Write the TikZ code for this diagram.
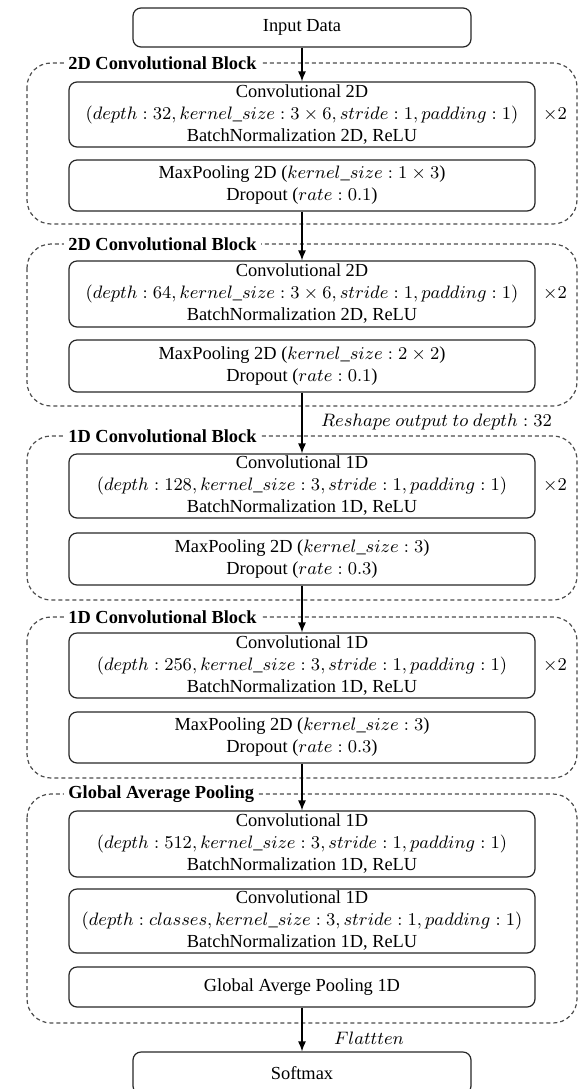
\documentclass[tikz,border=0pt]{standalone}
\usepackage[no-math]{fontspec}
\setmainfont{Liberation Serif}
\usetikzlibrary{arrows.meta}
\begin{document}
\begin{tikzpicture}[x=0.5pt,y=-0.5pt,
  txt/.style={font=\fontsize{9.2}{11}\selectfont},
  box/.style={txt, draw=black!85, line width=0.6pt, rounded corners=4pt, minimum width=233pt, align=center, inner sep=0pt},
  io/.style={box, minimum width=169pt, minimum height=19.5pt},
  conv/.style={box, minimum height=32.5pt},
  pool/.style={box, minimum height=25.5pt},
  blk/.style={draw=black!70, dash pattern=on 2pt off 1.5pt, line width=0.6pt, rounded corners=12pt},
  blklabel/.style={fill=white, inner xsep=2pt, inner ysep=1pt, anchor=west, font=\fontsize{9.2}{11}\selectfont\bfseries},
  arr/.style={-{Latex[length=5pt,width=4pt]}, line width=0.6pt, black}
]
\useasboundingbox (0,0) rectangle (582,1089);

% dashed blocks
\draw[blk] (27,63) rectangle (577,224);
\draw[blk] (27,244) rectangle (577,406);
\draw[blk] (27,436) rectangle (577,600);
\draw[blk] (27,617) rectangle (577,778);
\draw[blk] (27,794) rectangle (577,1023);

\node[blklabel] (l1) at (64,63) {2D Convolutional Block};
\node[blklabel] (l2) at (64,244) {2D Convolutional Block};
\node[blklabel] (l3) at (64,436) {1D Convolutional Block};
\node[blklabel] (l4) at (64,617) {1D Convolutional Block};
\node[blklabel] (l5) at (64,794) {Global Average Pooling};

% boxes
\node[io] (in) at (302,27.5) {Input Data};

\node[conv] (c1) at (302,114.5) {Convolutional 2D\\ $(depth:32, kernel\_size:3\times 6, stride:1, padding:1)$\\ BatchNormalization 2D, ReLU};
\node[pool] (m1) at (302,185.5) {MaxPooling 2D ($kernel\_size:1\times 3$)\\ Dropout ($rate:0.1$)};
\node[txt] (x1) at (555,114.5) {$\times 2$};

\node[conv, minimum height=33pt] (c2) at (302,294) {Convolutional 2D\\ $(depth:64, kernel\_size:3\times 6, stride:1, padding:1)$\\ BatchNormalization 2D, ReLU};
\node[pool, minimum height=26pt] (m2) at (302,366) {MaxPooling 2D ($kernel\_size:2\times 2$)\\ Dropout ($rate:0.1$)};
\node[txt] (x2) at (555,294) {$\times 2$};

\node[txt, anchor=west] (rs) at (314,422) {$Reshape\ output\ to\ depth:32$};

\node[conv, minimum height=32pt] (c3) at (302,486) {Convolutional 1D\\ $(depth:128, kernel\_size:3, stride:1, padding:1)$\\ BatchNormalization 1D, ReLU};
\node[pool, minimum height=26pt] (m3) at (302,559) {MaxPooling 2D ($kernel\_size:3$)\\ Dropout ($rate:0.3$)};
\node[txt] (x3) at (555,486) {$\times 2$};

\node[conv] (c4) at (302,665.5) {Convolutional 1D\\ $(depth:256, kernel\_size:3, stride:1, padding:1)$\\ BatchNormalization 1D, ReLU};
\node[pool] (m4) at (302,737.5) {MaxPooling 2D ($kernel\_size:3$)\\ Dropout ($rate:0.3$)};
\node[txt] (x4) at (555,665.5) {$\times 2$};

\node[conv, minimum height=33pt] (c5) at (302,844) {Convolutional 1D\\ $(depth:512, kernel\_size:3, stride:1, padding:1)$\\ BatchNormalization 1D, ReLU};
\node[conv, minimum height=32pt] (c6) at (302,921) {Convolutional 1D\\ $(depth:classes, kernel\_size:3, stride:1, padding:1)$\\ BatchNormalization 1D, ReLU};
\node[box, minimum height=20pt] (gp) at (302,987) {Global Averge Pooling 1D};

\node[txt] (fl) at (369,1038) {$Flattten$};
\node[io, minimum height=21pt] (sm) at (302,1073) {Softmax};

% arrows
\draw[arr] (in) -- (c1);
\draw[arr] (m1) -- (c2);
\draw[arr] (m2) -- (c3);
\draw[arr] (m3) -- (c4);
\draw[arr] (m4) -- (c5);
\draw[arr] (gp) -- (sm);
\end{tikzpicture}
\end{document}
